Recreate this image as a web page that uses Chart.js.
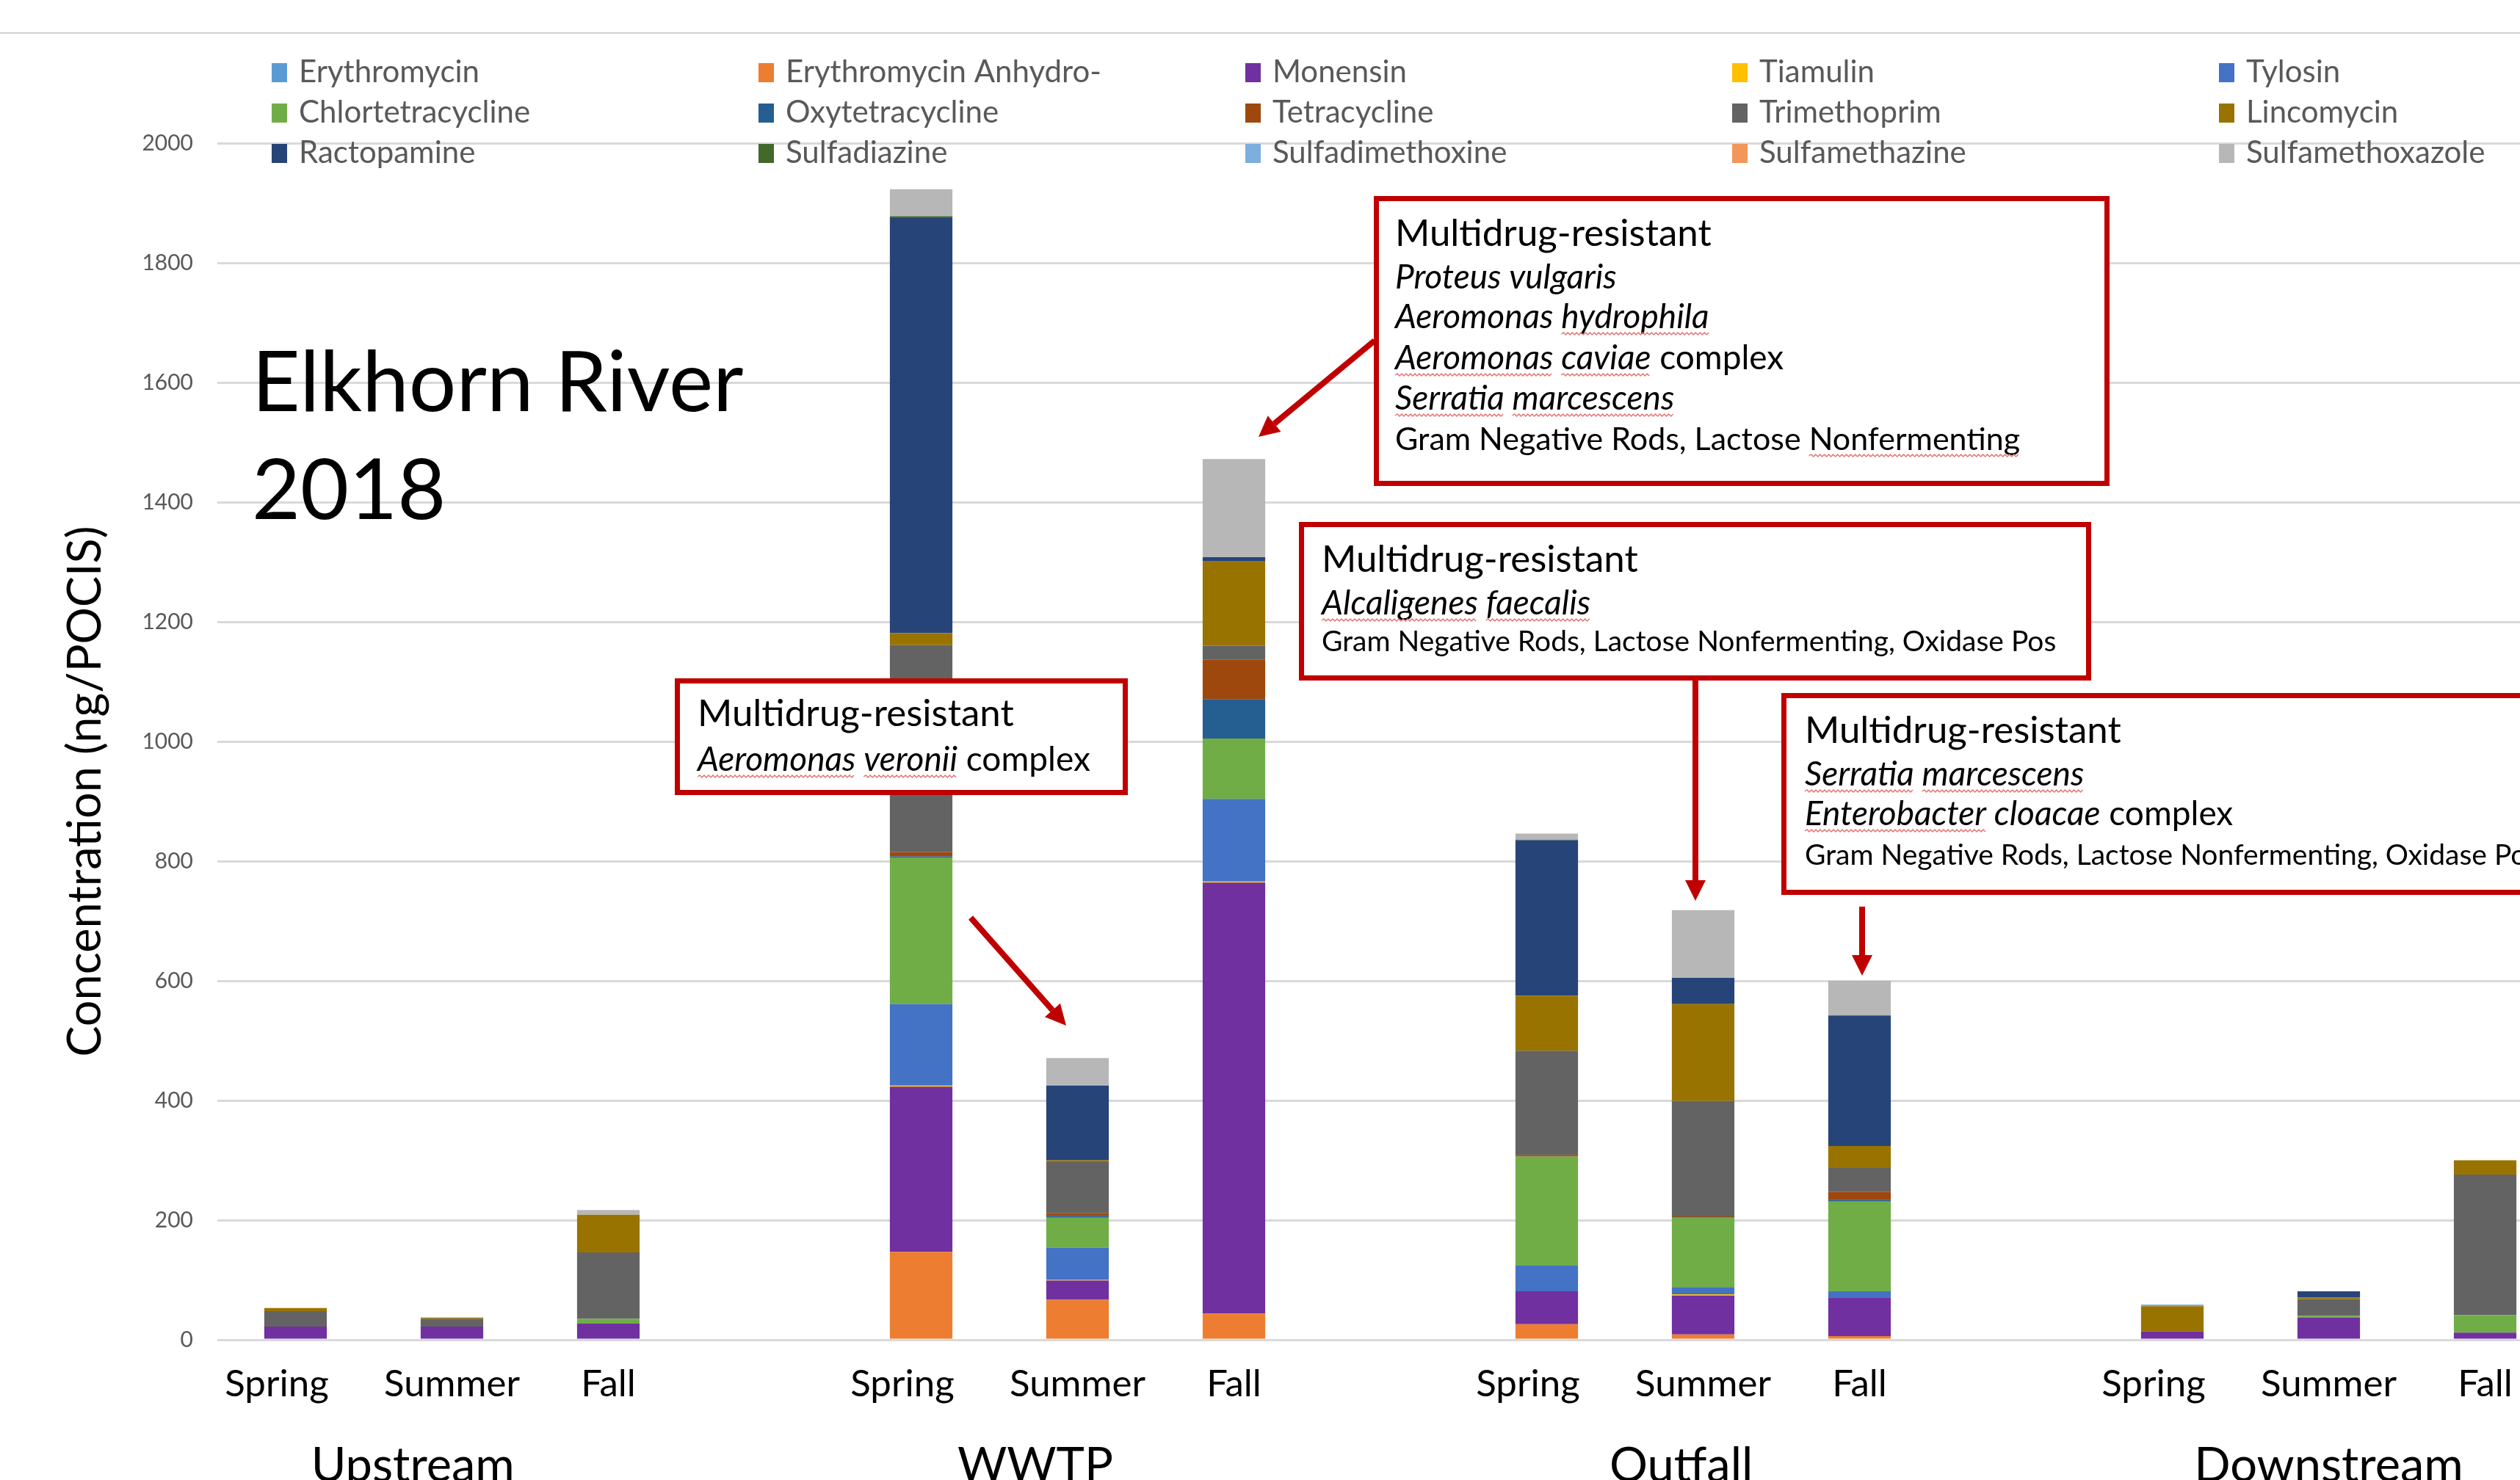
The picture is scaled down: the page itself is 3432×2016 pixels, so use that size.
<!DOCTYPE html>
<html>
<head>
<meta charset="utf-8">
<title>Elkhorn River 2018</title>
<script src="https://cdn.jsdelivr.net/npm/chart.js@4.4.1/dist/chart.umd.min.js"></script>
<style>
  html, body { margin: 0; padding: 0; background: #fff; overflow: hidden; }
  body { width: 3432px; height: 2016px; position: relative; }
  #chart { position: absolute; left: 0; top: 0; }
</style>
</head>
<body>
<canvas id="chart" width="3491" height="2016" style="width:3491px;height:2016px"></canvas>
<script>
// categories: three seasons per site, an empty slot between sites
const seasons = ['Spring', 'Summer', 'Fall', '', 'Spring', 'Summer', 'Fall', '', 'Spring', 'Summer', 'Fall', '', 'Spring', 'Summer', 'Fall'];
const sites = ['Upstream', 'WWTP', 'Outfall', 'Downstream'];

// ng/POCIS (null = gap slot)
const erythromycin      = [0, 0, 0, null, 0, 0, 0, null, 0, 0, 0, null, 0, 0, 0];
const erythroAnhydro    = [0, 0, 0, null, 147, 67, 44, null, 26, 9, 6, null, 0, 0, 0];
const monensin          = [22, 22, 27, null, 276, 32, 720, null, 55, 65, 65, null, 14, 37, 12];
const tiamulin          = [0, 0, 0, null, 2, 1, 2, null, 0, 2, 0, null, 0, 0, 0];
const tylosin           = [0, 0, 0, null, 136, 54, 138, null, 43, 12, 10, null, 0, 0, 0];
const chlortetracycline = [0, 0, 8, null, 245, 50, 101, null, 182, 116, 150, null, 0, 3, 29];
const oxytetracycline   = [0, 0, 0, null, 2, 3, 66, null, 0, 0, 3, null, 0, 0, 0];
const tetracycline      = [0, 0, 0, null, 7, 5, 66, null, 3, 2, 13, null, 0, 0, 0];
const trimethoprim      = [26, 13, 111, null, 346, 85, 23, null, 174, 193, 40, null, 0, 28, 235];
const lincomycin        = [5, 2, 63, null, 20, 3, 141, null, 92, 162, 37, null, 42, 3, 24];
const ractopamine       = [0, 0, 0, null, 694, 125, 7, null, 260, 44, 218, null, 0, 10, 0];
const sulfadiazine      = [0, 0, 0, null, 3, 0, 0, null, 1, 0, 0, null, 0, 0, 0];
const sulfadimethoxine  = [0, 0, 0, null, 0, 1, 0, null, 0, 0, 0, null, 3, 0, 0];
const sulfamethazine    = [0, 0, 0, null, 0, 0, 0, null, 0, 0, 0, null, 0, 0, 0];
const sulfamethoxazole  = [0, 0, 8, null, 45, 45, 164, null, 10, 113, 58, null, 0, 0, 0];

const compounds = ['Erythromycin', 'Erythromycin Anhydro-', 'Monensin', 'Tiamulin', 'Tylosin',
  'Chlortetracycline', 'Oxytetracycline', 'Tetracycline', 'Trimethoprim', 'Lincomycin',
  'Ractopamine', 'Sulfadiazine', 'Sulfadimethoxine', 'Sulfamethazine', 'Sulfamethoxazole'];
const series = [erythromycin, erythroAnhydro, monensin, tiamulin, tylosin,
  chlortetracycline, oxytetracycline, tetracycline, trimethoprim, lincomycin,
  ractopamine, sulfadiazine, sulfadimethoxine, sulfamethazine, sulfamethoxazole];
const colors = ['#5B9BD5', '#ED7D31', '#7030A0', '#FFC000', '#4472C4',
  '#70AD47', '#255E91', '#9E480E', '#636363', '#997300',
  '#264478', '#43682B', '#7CAFDD', '#F1975A', '#B7B7B7'];

const FONT = 'Lato, "Open Sans", sans-serif';
const RED = '#C00000';

// where each site name sits, in category units
const siteAt = [0.75, 4.73, 8.86, 13.0];

// callout boxes: [left, top, right, bottom], text x, lines of [baseline, size, parts]
// part = [text, italic, squiggle]
const notes = [
  { box: [1871, 267, 2873, 662], x: 1900, lines: [
    [335, 51, [['Multidrug-resistant', false, false]]],
    [393, 46, [['Proteus vulgaris', true, false]]],
    [447, 46, [['Aeromonas ', true, false], ['hydrophila', true, true]]],
    [503, 46, [['Aeromonas', true, true], [' ', true, false], ['caviae', true, true], [' complex', false, false]]],
    [558, 46, [['Serratia', true, true], [' ', true, false], ['marcescens', true, true]]],
    [613, 43, [['Gram Negative Rods, Lactose ', false, false], ['Nonfermenting', false, true]]]
  ]},
  { box: [1769, 711, 2848, 927], x: 1800, lines: [
    [779, 51, [['Multidrug-resistant', false, false]]],
    [837, 46, [['Alcaligenes', true, true], [' ', true, false], ['faecalis', true, true]]],
    [887, 39, [['Gram Negative Rods, Lactose Nonfermenting, Oxidase Pos', false, false]]]
  ]},
  { box: [2426, 944, 3520, 1219], x: 2458, lines: [
    [1012, 51, [['Multidrug-resistant', false, false]]],
    [1070, 46, [['Serratia', true, true], [' ', true, false], ['marcescens', true, true]]],
    [1124, 46, [['Enterobacter', true, true], [' cloacae', true, false], [' complex', false, false]]],
    [1178, 39, [['Gram Negative Rods, Lactose Nonfermenting, Oxidase Pos', false, false]]]
  ]},
  { box: [919, 924, 1536, 1083], x: 950, lines: [
    [989, 51, [['Multidrug-resistant', false, false]]],
    [1050, 46, [['Aeromonas', true, true], [' ', true, false], ['veronii', true, true], [' complex', false, false]]]
  ]}
];
const arrows = [
  [1872, 464, 1714, 595],
  [1322, 1250, 1452, 1397],
  [2309, 927, 2309, 1227],
  [2536, 1235, 2536, 1329]
];

function squiggle(ctx, x0, x1, y) {
  ctx.save();
  ctx.strokeStyle = '#E57373';
  ctx.lineWidth = 1.5;
  ctx.beginPath();
  let up = true;
  ctx.moveTo(x0, y);
  for (let x = x0 + 3; x <= x1; x += 3) {
    ctx.lineTo(x, up ? y - 2 : y + 1);
    up = !up;
  }
  ctx.stroke();
  ctx.restore();
}

function arrow(ctx, x1, y1, x2, y2) {
  const a = Math.atan2(y2 - y1, x2 - x1);
  const head = 28, half = 14;
  const bx = x2 - head * Math.cos(a), by = y2 - head * Math.sin(a);
  ctx.save();
  ctx.strokeStyle = RED;
  ctx.fillStyle = RED;
  ctx.lineWidth = 8;
  ctx.beginPath();
  ctx.moveTo(x1, y1);
  ctx.lineTo(bx, by);
  ctx.stroke();
  ctx.beginPath();
  ctx.moveTo(x2, y2);
  ctx.lineTo(bx + half * Math.sin(a), by - half * Math.cos(a));
  ctx.lineTo(bx - half * Math.sin(a), by + half * Math.cos(a));
  ctx.closePath();
  ctx.fill();
  ctx.restore();
}

const decorations = {
  id: 'decorations',
  afterDraw(chart) {
    const ctx = chart.ctx;
    const xs = chart.scales.x;
    ctx.save();

    // frame line at the top
    ctx.strokeStyle = '#D0D0D0';
    ctx.lineWidth = 2;
    ctx.beginPath();
    ctx.moveTo(0, 45);
    ctx.lineTo(chart.width, 45);
    ctx.stroke();

    // legend, 5 columns
    ctx.textBaseline = 'alphabetic';
    ctx.textAlign = 'left';
    ctx.font = '42px ' + FONT;
    chart.data.datasets.forEach((ds, i) => {
      const x = 370 + (i % 5) * 663;
      const y = 112 + Math.floor(i / 5) * 55;
      ctx.fillStyle = ds.backgroundColor;
      ctx.fillRect(x, y - 26, 21, 26);
      ctx.fillStyle = '#595959';
      ctx.fillText(ds.label, x + 37, y);
    });

    // title in the plot
    ctx.fillStyle = '#000';
    ctx.font = '114px ' + FONT;
    ctx.fillText('Elkhorn River', 343, 560);
    ctx.fillText('2018', 343, 707);

    // y axis title
    ctx.save();
    ctx.translate(117, 1078);
    ctx.rotate(-Math.PI / 2);
    ctx.textAlign = 'center';
    ctx.textBaseline = 'middle';
    ctx.font = '63px ' + FONT;
    ctx.fillText('Concentration (ng/POCIS)', 0, 0);
    ctx.restore();

    // site names under the season labels
    ctx.textAlign = 'center';
    ctx.font = '65px ' + FONT;
    sites.forEach((s, i) => ctx.fillText(s, xs.getPixelForValue(siteAt[i]), 2018));

    // callouts
    ctx.textAlign = 'left';
    notes.forEach(n => {
      const [l, t, r, b] = n.box;
      ctx.fillStyle = '#fff';
      ctx.fillRect(l, t, r - l, b - t);
      ctx.strokeStyle = RED;
      ctx.lineWidth = 7;
      ctx.strokeRect(l + 3.5, t + 3.5, r - l - 7, b - t - 7);
      n.lines.forEach(([y, size, parts]) => {
        let x = n.x;
        parts.forEach(([txt, it, sq]) => {
          ctx.font = (it ? 'italic ' : '') + size + 'px ' + FONT;
          ctx.fillStyle = '#000';
          ctx.fillText(txt, x, y);
          const w = ctx.measureText(txt).width;
          if (sq) squiggle(ctx, x, x + w, y + 8);
          x += w;
        });
      });
    });
    arrows.forEach(a => arrow(ctx, ...a));
    ctx.restore();
  }
};

const datasets = compounds.map((name, i) => ({
  label: name,
  data: series[i],
  backgroundColor: colors[i],
  borderWidth: 0
}));

new Chart(document.getElementById('chart').getContext('2d'), {
  type: 'bar',
  data: { labels: seasons, datasets: datasets },
  options: {
    responsive: false,
    animation: false,
    devicePixelRatio: 1,
    layout: { padding: { top: 195, right: 0, bottom: 0, left: 0 } },
    datasets: { bar: { barPercentage: 0.4, categoryPercentage: 1 } },
    plugins: { legend: { display: false }, tooltip: { enabled: false } },
    scales: {
      x: {
        stacked: true,
        grid: { display: false, drawTicks: false },
        border: { display: false },
        ticks: {
          color: '#000', font: { family: FONT, size: 51 }, padding: 30, autoSkip: false, maxRotation: 0,
          // the spring labels sit a little left of their bars in the original
          callback(v, i) { const s = this.getLabelForValue(v); return s === 'Spring' ? s + '\u2002\u2002' : s; }
        },
        afterFit(s) { s.height = 191; }
      },
      y: {
        stacked: true,
        min: 0,
        max: 2000,
        grid: { color: '#D9D9D9', lineWidth: 3, drawTicks: false },
        border: { display: false },
        ticks: { stepSize: 200, color: '#595959', font: { family: FONT, size: 30 }, padding: 33, callback: v => String(v) },
        afterFit(s) { s.width = 296; }
      }
    }
  },
  plugins: [decorations]
});
</script>
</body>
</html>
